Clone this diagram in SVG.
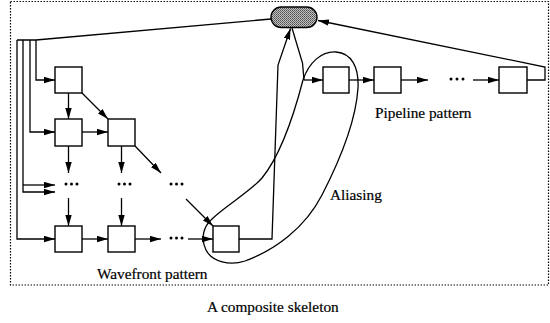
<svg xmlns="http://www.w3.org/2000/svg" width="550" height="323" viewBox="0 0 550 323">
<style>
.box{fill:#fff;stroke:#000;stroke-width:1.4}
.ln{fill:none;stroke:#000;stroke-width:1.3}
.ar{fill:none;stroke:#000;stroke-width:1.3;marker-end:url(#ah)}
.dot{fill:#000}
.t{font-family:"Liberation Serif","Times New Roman",serif;font-size:15.3px;fill:#000;stroke:#000;stroke-width:0.2}
</style>
<defs>
<marker id="ah" markerUnits="userSpaceOnUse" markerWidth="12" markerHeight="7" refX="11" refY="3.2" orient="auto">
<path d="M0,0 L11,3.2 L0,6.4 z" fill="#000"/>
</marker>
<pattern id="stip" width="2" height="2" patternUnits="userSpaceOnUse">
<rect width="2" height="2" fill="#c4c4c4"/>
<rect x="0" y="0" width="1" height="1" fill="#4a4a4a"/>
<rect x="1" y="1" width="1" height="1" fill="#6a6a6a"/>
</pattern>
</defs>
<rect x="10.5" y="1.5" width="538" height="283.5" fill="none" stroke="#000" stroke-width="1.2" stroke-dasharray="1.4 1.6"/>
<g id="connectors">
<polyline class="ln" points="271,19 36,40 17,40"/>
<polyline class="ar" points="36,40 36,80 55,80"/>
<polyline class="ar" points="30,40 30,132 55,132"/>
<polyline class="ar" points="23,40 23,192 55,192"/>
<line class="ar" x1="23" y1="185" x2="55" y2="185"/>
<polyline class="ar" points="17,40 17,239 55,239"/>
<line class="ar" x1="68.5" y1="93" x2="68.5" y2="119"/>
<line class="ar" x1="82" y1="93" x2="108" y2="119"/>
<line class="ar" x1="82" y1="132" x2="108" y2="132"/>
<line class="ar" x1="68.5" y1="146" x2="68.5" y2="173"/>
<line class="ar" x1="121.5" y1="146" x2="121.5" y2="173"/>
<line class="ar" x1="135" y1="146" x2="161" y2="173"/>
<line class="ar" x1="68.5" y1="198" x2="68.5" y2="226"/>
<line class="ar" x1="121.5" y1="198" x2="121.5" y2="226"/>
<line class="ar" x1="186" y1="199" x2="213" y2="226"/>
<line class="ar" x1="82" y1="239" x2="108" y2="239"/>
<line class="ar" x1="135" y1="239" x2="161" y2="239"/>
<line class="ar" x1="188" y1="239" x2="213" y2="239"/>
<polyline class="ar" points="239,239 272,239 278,65 290.5,28.5"/>
<polyline class="ln" points="292,28 302.5,63 304,80"/>
<line class="ar" x1="304" y1="80" x2="323" y2="80"/>
<line class="ar" x1="349" y1="80" x2="374" y2="80"/>
<line class="ar" x1="401" y1="80" x2="428" y2="80"/>
<line class="ar" x1="473" y1="80" x2="499" y2="80"/>
<polyline class="ar" points="527,80 545,80 545,67 318,20.5"/>
<g class="dot">
<circle cx="66" cy="184" r="1.5"/><circle cx="71.5" cy="184" r="1.5"/><circle cx="77" cy="184" r="1.5"/>
<circle cx="119" cy="184" r="1.5"/><circle cx="124.5" cy="184" r="1.5"/><circle cx="130" cy="184" r="1.5"/>
<circle cx="171" cy="184" r="1.5"/><circle cx="176.5" cy="184" r="1.5"/><circle cx="182" cy="184" r="1.5"/>
<circle cx="171" cy="238" r="1.5"/><circle cx="176.5" cy="238" r="1.5"/><circle cx="182" cy="238" r="1.5"/>
<circle cx="451" cy="79" r="1.5"/><circle cx="457" cy="79" r="1.5"/><circle cx="463" cy="79" r="1.5"/>
</g>
</g>
<g id="controller"><rect x="271" y="7" width="46" height="20.5" rx="10.2" fill="url(#stip)" stroke="#000" stroke-width="1.4"/></g>
<g id="w11"><rect class="box" x="55" y="67" width="27" height="26"/></g>
<g id="w21"><rect class="box" x="55" y="119" width="27" height="27"/></g>
<g id="w22"><rect class="box" x="108" y="119" width="27" height="27"/></g>
<g id="w41"><rect class="box" x="55" y="226" width="27" height="26"/></g>
<g id="w42"><rect class="box" x="108" y="226" width="27" height="26"/></g>
<g id="w44"><rect class="box" x="213" y="226" width="26" height="26"/></g>
<g id="p1"><rect class="box" x="323" y="67" width="26" height="26"/></g>
<g id="p2"><rect class="box" x="374" y="67" width="27" height="26"/></g>
<g id="p3"><rect class="box" x="499" y="67" width="28" height="26"/></g>
<g id="aliasing">
<path class="ln" d="M303,80 C309,62 322,51 336,52 C352,53 359,68 358,88 C356,120 340,160 322,195 C305,228 275,250 245,261 C230,266 212,262 206,250 C200,238 204,226 212,219 C225,206 250,192 262,178 C275,162 290,130 303,80 Z"/>
</g>
<g id="labels">
<text class="t" x="375" y="118">Pipeline pattern</text>
<text class="t" x="330" y="200">Aliasing</text>
<text class="t" x="97" y="279">Wavefront pattern</text>
<text class="t" x="207" y="311.5">A composite skeleton</text>
</g>
</svg>
